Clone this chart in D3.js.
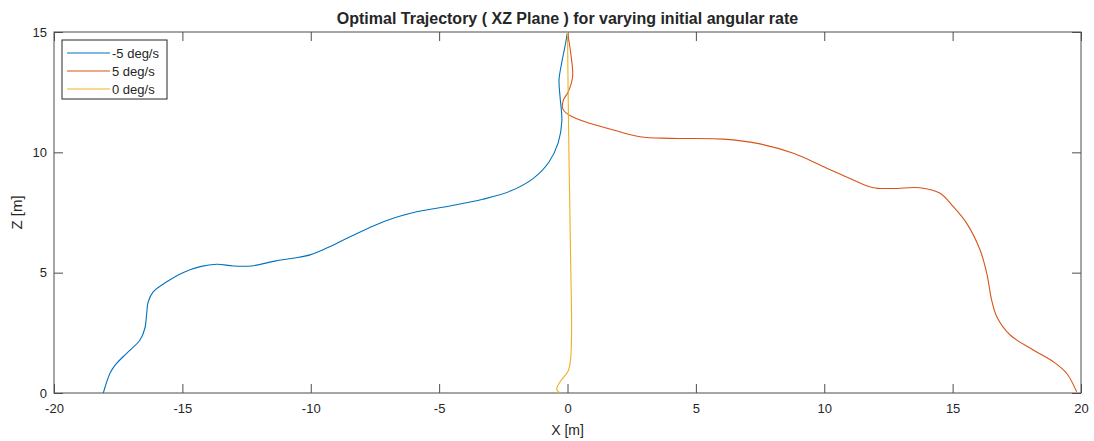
<!DOCTYPE html>
<html>
<head>
<meta charset="utf-8">
<script src="https://cdn.jsdelivr.net/npm/d3@7"></script>
<style>
	body { margin: 0; background: #fff; }
	text { font-family: "Liberation Sans", Arial, sans-serif; fill: #262626; }
</style>
</head>
<body>
<div id="chartDiv"></div>
<script>
// data: [x, z]
var negRate = [
	[-18.08, 0], [-17.82, 0.82], [-17.62, 1.16], [-17.17, 1.65], [-16.65, 2.2],
	[-16.46, 2.69], [-16.39, 3.31], [-16.33, 3.79], [-16.13, 4.21], [-15.61, 4.62],
	[-14.96, 5.01], [-14.31, 5.25], [-13.66, 5.35], [-13.02, 5.28], [-12.3, 5.28],
	[-11.4, 5.48], [-10.7, 5.6], [-10.03, 5.74], [-9.4, 6.01], [-8.47, 6.49],
	[-7.17, 7.12], [-5.87, 7.53], [-4.58, 7.77], [-3.3, 8.05], [-2.2, 8.4],
	[-1.33, 8.92], [-0.72, 9.6], [-0.36, 10.4], [-0.22, 11.3], [-0.29, 12.3],
	[-0.33, 13.0], [-0.23, 13.7], [-0.1, 14.39], [0, 15]
];
var posRate = [
	[0, 15], [0.16, 13.83], [0.2, 13.14], [0.03, 12.52], [-0.16, 12.17],
	[-0.19, 11.83], [-0.03, 11.62], [0.49, 11.34], [1.79, 10.93], [2.82, 10.65],
	[4.0, 10.58], [6.07, 10.55], [7.5, 10.35], [8.8, 9.96], [10.1, 9.34],
	[11.13, 8.85], [11.91, 8.53], [12.69, 8.5], [13.73, 8.53], [14.51, 8.3],
	[15.03, 7.74], [15.55, 7.05], [16.07, 5.94], [16.33, 4.97], [16.52, 3.86],
	[16.72, 3.17], [17.24, 2.41], [18.14, 1.79], [18.92, 1.3], [19.44, 0.82],
	[19.83, 0.05]
];
var zeroRate = [
	[0, 15], [0.03, 12], [0.07, 9], [0.1, 7], [0.13, 5], [0.16, 3],
	[0.15, 2], [0.12, 1.4], [0.02, 0.9], [-0.3, 0.45], [-0.42, 0.15], [-0.3, 0]
];
var seriesNames = ["-5 deg/s", "5 deg/s", "0 deg/s"];
var seriesColors = ["#0072BD", "#D95319", "#EDB120"];
var xTicks = [-20, -15, -10, -5, 0, 5, 10, 15, 20];
var yTicks = [0, 5, 10, 15];

var width = 1094, height = 441;
var margin = {top: 32, right: 13, bottom: 48, left: 54};
var axisColor = "#4d4d4d";

var svg = d3.select("#chartDiv").append("svg")
	.attr("width", width)
	.attr("height", height);

var x = d3.scaleLinear().domain([-20, 20]).range([margin.left, width - margin.right]);
var y = d3.scaleLinear().domain([0, 15]).range([height - margin.bottom, margin.top]);

var plotW = x(20) - x(-20), plotH = y(0) - y(15);

// matlab style: plain hyphen, not unicode minus
var plainFmt = function(d) { return String(d); };

// box
svg.append("rect")
	.attr("x", x(-20)).attr("y", y(15))
	.attr("width", plotW).attr("height", plotH)
	.attr("fill", "none").attr("stroke", axisColor).attr("stroke-width", 1);

// inward ticks on all four sides
function styleAxis(g) {
	g.select(".domain").remove();
	g.selectAll(".tick line").attr("stroke", axisColor);
	g.selectAll(".tick text").style("font-size", "13px").attr("fill", "#262626");
}

svg.append("g")
	.attr("transform", "translate(0," + y(0) + ")")
	.call(d3.axisBottom(x).tickValues(xTicks).tickSizeInner(-9).tickPadding(11).tickFormat(plainFmt))
	.call(styleAxis);
svg.append("g")
	.attr("transform", "translate(0," + y(15) + ")")
	.call(d3.axisTop(x).tickValues(xTicks).tickSizeInner(-9).tickFormat(""))
	.call(styleAxis);
svg.append("g")
	.attr("transform", "translate(" + x(-20) + ",0)")
	.call(d3.axisLeft(y).tickValues(yTicks).tickSizeInner(-9).tickPadding(7).tickFormat(plainFmt))
	.call(styleAxis);
svg.append("g")
	.attr("transform", "translate(" + x(20) + ",0)")
	.call(d3.axisRight(y).tickValues(yTicks).tickSizeInner(-9).tickFormat(""))
	.call(styleAxis);

// lines
var line = d3.line()
	.x(function(d) { return x(d[0]); })
	.y(function(d) { return y(d[1]); })
	.curve(d3.curveCatmullRom.alpha(0.5));

var allSeries = [negRate, posRate, zeroRate];
svg.append("g").selectAll("path")
	.data(allSeries)
	.enter().append("path")
	.attr("d", line)
	.attr("fill", "none")
	.attr("stroke", function(d, i) { return seriesColors[i]; })
	.attr("stroke-width", 1.1);

// title and axis labels
svg.append("text")
	.attr("x", (x(-20) + x(20)) / 2).attr("y", 24)
	.attr("text-anchor", "middle")
	.style("font-size", "16px").style("font-weight", "bold")
	.attr("fill", "#000")
	.text("Optimal Trajectory ( XZ Plane ) for varying initial angular rate");

svg.append("text")
	.attr("x", (x(-20) + x(20)) / 2).attr("y", 435)
	.attr("text-anchor", "middle")
	.style("font-size", "14px")
	.text("X [m]");

svg.append("text")
	.attr("transform", "translate(22," + (y(0) + y(15)) / 2 + ") rotate(-90)")
	.attr("text-anchor", "middle")
	.style("font-size", "15px")
	.text("Z [m]");

// legend
var legend = svg.append("g").attr("transform", "translate(62,40)");
legend.append("rect")
	.attr("width", 105).attr("height", 59)
	.attr("fill", "#fff").attr("stroke", "#262626").attr("stroke-width", 1);
var rows = legend.selectAll("g.row")
	.data(seriesNames)
	.enter().append("g")
	.attr("class", "row")
	.attr("transform", function(d, i) { return "translate(0," + (13 + i * 18) + ")"; });
rows.append("line")
	.attr("x1", 5).attr("x2", 48)
	.attr("stroke", function(d, i) { return seriesColors[i]; })
	.attr("stroke-width", 1.1);
rows.append("text")
	.attr("x", 50).attr("dy", "0.35em")
	.style("font-size", "13px")
	.text(function(d) { return d; });
</script>
</body>
</html>
